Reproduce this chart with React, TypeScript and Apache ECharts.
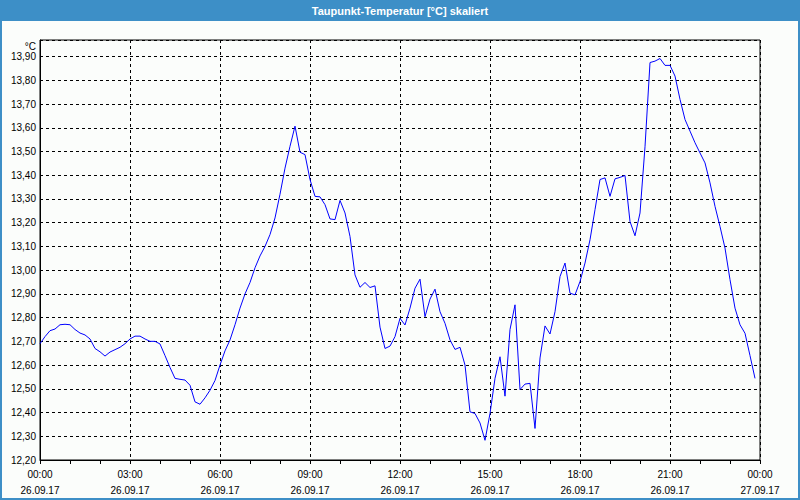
import React, { useEffect, useRef } from "react";
import * as echarts from "echarts";

const TITLE = "Taupunkt-Temperatur [°C] skaliert";
const UNIT = "°C";
const STEP_MINUTES = 10;
const DATE_DAY1 = "26.09.17";
const DATE_DAY2 = "27.09.17";

// Dew point values every 10 minutes, 00:00 .. 23:50
const values: number[] = [
  12.69, 12.72, 12.745, 12.752, 12.77, 12.772, 12.77, 12.75, 12.735, 12.727,
  12.71, 12.67, 12.656, 12.638, 12.655, 12.665, 12.675, 12.69, 12.71, 12.722,
  12.722, 12.71, 12.7, 12.7, 12.689, 12.64, 12.59, 12.544, 12.54, 12.537,
  12.515, 12.445, 12.435, 12.462, 12.494, 12.535, 12.6, 12.66, 12.706, 12.77,
  12.84, 12.9, 12.948, 13.01, 13.06, 13.1, 13.15, 13.22, 13.32, 13.43,
  13.522, 13.607, 13.497, 13.487, 13.382, 13.311, 13.309, 13.276, 13.216, 13.213,
  13.294, 13.241, 13.142, 12.98, 12.928, 12.948, 12.927, 12.934, 12.76, 12.67,
  12.68, 12.72, 12.797, 12.769, 12.84, 12.924, 12.962, 12.804, 12.878, 12.92,
  12.825, 12.776, 12.706, 12.666, 12.675, 12.6, 12.403, 12.396, 12.356, 12.283,
  12.396, 12.544, 12.635, 12.469, 12.75, 12.854, 12.497, 12.52, 12.523, 12.333,
  12.63, 12.765, 12.731, 12.825, 12.973, 13.03, 12.903, 12.896, 12.952, 13.03,
  13.128, 13.255, 13.382, 13.389, 13.311, 13.385, 13.391, 13.399, 13.205, 13.145,
  13.241, 13.52, 13.875, 13.881, 13.892, 13.863, 13.863, 13.818, 13.72, 13.635,
  13.586, 13.537, 13.494, 13.452, 13.368, 13.269, 13.184, 13.093, 12.96, 12.84,
  12.77, 12.734, 12.64, 12.544,
];

const Y_MIN = 12.2;
const Y_MAX = 13.97;
const Y_STEP = 0.1;
const X_MIN = 0;
const X_MAX = 1440;
const X_STEP = 180;

const FONT = "'Liberation Sans', Arial, sans-serif";

export default function App() {
  const ref = useRef<HTMLDivElement>(null);

  useEffect(() => {
    if (!ref.current) return;
    const chart = echarts.init(ref.current, null, { renderer: "svg" });
    const data = values.map((v, i) => [i * STEP_MINUTES, v]);
    const pad = (n: number) => (n < 10 ? "0" + n : String(n));

    chart.setOption({
      animation: false,
      backgroundColor: "#fbfdfb",
      graphic: [
        {
          type: "rect",
          shape: { x: 0, y: 0, width: 800, height: 21 },
          style: { fill: "#3d8fc7" },
          silent: true,
        },
        {
          type: "rect",
          shape: { x: 1, y: 1, width: 798, height: 498 },
          style: { fill: "none", stroke: "#3d8fc7", lineWidth: 2 },
          silent: true,
        },
        {
          type: "text",
          x: 400,
          y: 10.5,
          style: {
            text: TITLE,
            fill: "#ffffff",
            font: `bold 11px ${FONT}`,
            textAlign: "center",
            textVerticalAlign: "middle",
          },
        },
      ],
      grid: {
        left: 40,
        right: 40,
        top: 40,
        bottom: 40,
        show: true,
        borderColor: "#000000",
        borderWidth: 1,
      },
      xAxis: {
        type: "value",
        min: X_MIN,
        max: X_MAX,
        interval: X_STEP,
        axisLine: { show: true, lineStyle: { color: "#000", width: 1 } },
        axisTick: { show: true, length: 4, lineStyle: { color: "#000" } },
        minorTick: { show: true, splitNumber: 3, length: 4, lineStyle: { color: "#000" } },
        splitLine: { show: true, lineStyle: { color: "#000", type: [3, 3], width: 1 } },
        axisLabel: {
          color: "#000",
          fontFamily: FONT,
          fontSize: 10,
          margin: 6,
          lineHeight: 16,
          formatter: (v: number) => {
            const h = Math.round(v / 60) % 24;
            const d = v >= 1440 ? DATE_DAY2 : DATE_DAY1;
            return `${pad(h)}:00\n${d}`;
          },
        },
      },
      yAxis: {
        type: "value",
        min: Y_MIN,
        max: Y_MAX,
        interval: Y_STEP,
        axisLine: { show: true, lineStyle: { color: "#000", width: 1 } },
        axisTick: { show: false },
        splitLine: { show: true, lineStyle: { color: "#000", type: [3, 3], width: 1 } },
        axisLabel: {
          color: "#000",
          fontFamily: FONT,
          fontSize: 10,
          margin: 4,
          formatter: (v: number) => {
            if (v > Y_MAX - 0.03) return `{u|${UNIT}}`;
            return v.toFixed(2).replace(".", ",");
          },
          rich: {
            u: { fontFamily: FONT, fontSize: 10, color: "#000", padding: [12, 0, 0, 0] },
          },
        },
      },
      series: [
        {
          type: "line",
          data,
          showSymbol: false,
          symbol: "none",
          lineStyle: { color: "#0000ff", width: 1 },
          z: 5,
        },
      ],
    });

    return () => chart.dispose();
  }, []);

  return (
    <div
      ref={ref}
      style={{ position: "absolute", left: 0, top: 0, width: 800, height: 500 }}
    />
  );
}
